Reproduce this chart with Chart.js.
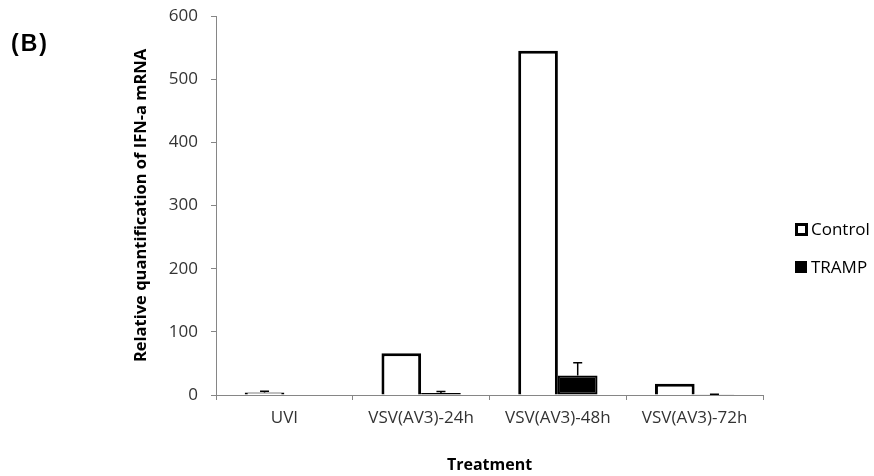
<!DOCTYPE html>
<html>
<head>
<meta charset="utf-8">
<script src="https://cdn.jsdelivr.net/npm/chart.js@4/dist/chart.umd.min.js"></script>
<style>
  html, body { margin: 0; padding: 0; background: #fff; }
  #wrap { position: relative; width: 874px; height: 476px; }
  #panel { position: absolute; left: 11px; top: 27px; font: bold 23px "Liberation Sans", Arial, sans-serif; letter-spacing: 2px; color: #000; line-height: 32px; }
</style>
</head>
<body>
<div id="wrap">
  <canvas id="c" width="874" height="476"></canvas>
  <div id="panel">(B)</div>
</div>
<script>
// Treatment groups along the x axis
const categories = ['UVI', 'VSV(AV3)-24h', 'VSV(AV3)-48h', 'VSV(AV3)-72h'];
// Relative IFN-a mRNA levels per group
const controlValues = [4, 66, 545, 18];
const trampValues = [0, 3, 31, 0.3];
// Upper error bar lengths
const controlErrors = [1.8, 0, 0, 0];
const trampErrors = [0, 2.5, 20, 1];
// Y axis range and step
const yTicks = [0, 100, 200, 300, 400, 500, 600];

const FONT = '"Open Sans", sans-serif';
const AXIS_GREY = '#868686';

// Upper error whiskers with caps, positioned through the chart's own scales
const errorBars = {
  id: 'errorBars',
  afterDatasetsDraw(chart) {
    const { ctx } = chart;
    const yScale = chart.scales.y;
    chart.data.datasets.forEach((ds, di) => {
      const meta = chart.getDatasetMeta(di);
      ds.errors.forEach((err, i) => {
        if (!err) return;
        const bar = meta.data[i];
        const yTop = yScale.getPixelForValue(ds.data[i] + err);
        const yBase = yScale.getPixelForValue(ds.data[i]);
        ctx.save();
        ctx.strokeStyle = '#000';
        ctx.lineWidth = 1.5;
        ctx.beginPath();
        ctx.moveTo(bar.x, yBase);
        ctx.lineTo(bar.x, yTop);
        ctx.moveTo(bar.x - 4.5, yTop);
        ctx.lineTo(bar.x + 4.5, yTop);
        ctx.stroke();
        ctx.restore();
      });
    });
  }
};

// Legend to the right of the plot area
const sideLegend = {
  id: 'sideLegend',
  afterDraw(chart) {
    const { ctx, chartArea } = chart;
    const x = chartArea.right + 32;
    const rows = [chartArea.top + 213, chartArea.top + 251];
    ctx.save();
    ctx.font = '17px ' + FONT;
    ctx.textBaseline = 'middle';
    chart.data.datasets.forEach((ds, i) => {
      const y = rows[i];
      if (i === 0) {
        ctx.fillStyle = '#fff';
        ctx.fillRect(x, y - 6, 13, 13);
        ctx.strokeStyle = '#000';
        ctx.lineWidth = 3;
        ctx.strokeRect(x + 1.5, y - 4.5, 10, 10);
      } else {
        ctx.fillStyle = '#000';
        ctx.fillRect(x, y - 6, 12, 12);
      }
      ctx.fillStyle = '#000';
      ctx.fillText(ds.label, x + 16, y + 1);
    });
    ctx.restore();
  }
};

new Chart(document.getElementById('c'), {
  type: 'bar',
  data: {
    labels: categories,
    datasets: [
      {
        label: 'Control',
        data: controlValues,
        errors: controlErrors,
        backgroundColor: '#fff',
        borderColor: '#000',
        borderWidth: 3,
        borderSkipped: 'start'
      },
      {
        label: 'TRAMP',
        data: trampValues,
        errors: trampErrors,
        backgroundColor: '#000',
        borderColor: '#000',
        borderWidth: 2,
        borderSkipped: false
      }
    ]
  },
  options: {
    responsive: false,
    animation: false,
    devicePixelRatio: 1,
    layout: { padding: { top: 16, right: 111, bottom: 0, left: 0 } },
    datasets: { bar: { categoryPercentage: 0.58, barPercentage: 1.0 } },
    plugins: { legend: { display: false }, tooltip: { enabled: false } },
    scales: {
      x: {
        z: 1,
        grid: { display: true, drawOnChartArea: false, drawTicks: true, tickLength: 5, color: AXIS_GREY, offset: true },
        border: { display: true, color: AXIS_GREY, width: 1 },
        ticks: { color: '#333', font: { family: FONT, size: 17 }, padding: 8, maxRotation: 0 },
        title: { display: true, text: 'Treatment', color: '#000', font: { family: FONT, size: 16, weight: 'bold' }, padding: { top: 0, bottom: 1 } },
        afterFit(scale) { scale.height = 81; scale.paddingLeft = 0; scale.paddingRight = 0; }
      },
      y: {
        z: 1,
        min: yTicks[0],
        max: yTicks[yTicks.length - 1],
        afterBuildTicks(scale) { scale.ticks = yTicks.map(v => ({ value: v })); },
        grid: { display: true, drawOnChartArea: false, drawTicks: true, tickLength: 5, color: AXIS_GREY },
        border: { display: true, color: AXIS_GREY, width: 1 },
        ticks: { color: '#333', font: { family: FONT, size: 17 }, padding: 13 },
        title: { display: true, text: 'Relative quantification of IFN-a mRNA', color: '#000', font: { family: FONT, size: 16.5, weight: 'bold' }, padding: { top: 131, bottom: 0 } },
        afterFit(scale) { scale.width = 216; scale.paddingTop = 0; scale.paddingBottom = 0; }
      }
    }
  },
  plugins: [errorBars, sideLegend]
});
</script>
</body>
</html>
